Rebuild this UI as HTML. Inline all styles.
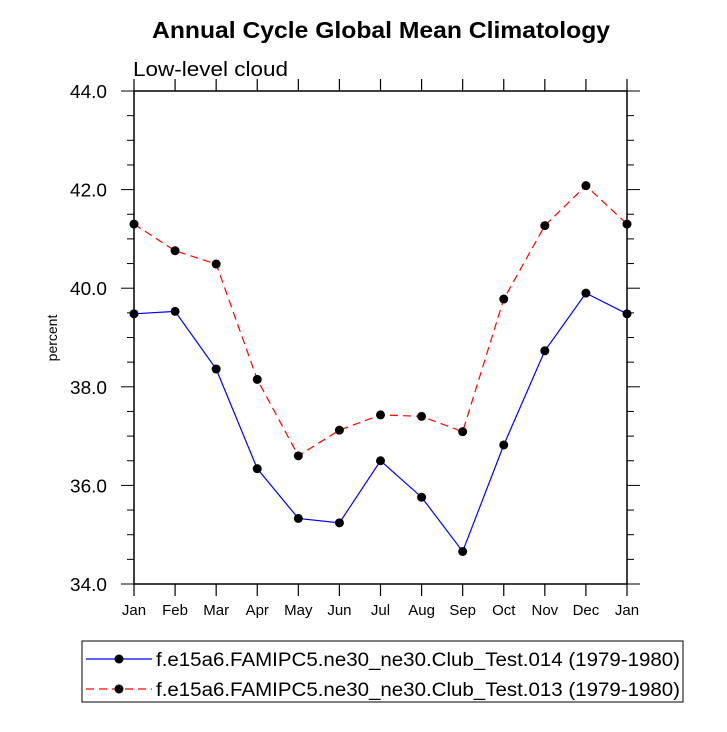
<!DOCTYPE html>
<html><head><meta charset="utf-8"><style>body{margin:0;background:#fff}svg{font-family:"Liberation Sans",sans-serif}</style></head>
<body>
<svg width="727" height="727" viewBox="0 0 727 727">
<text x="152" y="38" textLength="458" lengthAdjust="spacingAndGlyphs" font-size="23" font-weight="bold">Annual Cycle Global Mean Climatology</text>
<text x="133" y="76" textLength="155" lengthAdjust="spacingAndGlyphs" font-size="20">Low-level cloud</text>
<text transform="translate(57,338) rotate(-90)" text-anchor="middle" font-size="14">percent</text>
<g id="axes"></g>
<g id="series"></g>
<rect x="82" y="641" width="601" height="61" fill="none" stroke="#000" stroke-width="1"/>
<g>
<line x1="86" y1="659" x2="152" y2="659" stroke="#00f" stroke-width="1.2"/>
<circle cx="119" cy="659" r="4.5" fill="#000"/>
<text x="156" y="666" font-size="19" textLength="524" lengthAdjust="spacingAndGlyphs">f.e15a6.FAMIPC5.ne30_ne30.Club_Test.014 (1979-1980)</text>
</g>
<g>
<line x1="86" y1="689" x2="152" y2="689" stroke="#f00" stroke-width="1.2" stroke-dasharray="8,5"/>
<circle cx="119" cy="689" r="4.5" fill="#000"/>
<text x="156" y="696" font-size="19" textLength="524" lengthAdjust="spacingAndGlyphs">f.e15a6.FAMIPC5.ne30_ne30.Club_Test.013 (1979-1980)</text>
</g>
</svg>
<script>
const months=["Jan","Feb","Mar","Apr","May","Jun","Jul","Aug","Sep","Oct","Nov","Dec","Jan"];
const blue=[39.48,39.53,38.36,36.34,35.33,35.24,36.5,35.76,34.66,36.82,38.73,39.9,39.48];
const red=[41.3,40.76,40.49,38.15,36.6,37.12,37.43,37.4,37.09,39.78,41.27,42.08,41.3];
const yTicks=[34,36,38,40,42,44];
const yTickLabels=["34.0","36.0","38.0","40.0","42.0","44.0"];
const NS="http://www.w3.org/2000/svg";
const L=134,R=627,T=91,B=584,ymin=34,ymax=44;
const X=i=>L+(R-L)*i/(months.length-1);
const Y=v=>B-(B-T)*(v-ymin)/(ymax-ymin);
function mk(t,a,p){const e=document.createElementNS(NS,t);for(const k in a)e.setAttribute(k,a[k]);p.appendChild(e);return e;}
const ax=document.getElementById('axes'),se=document.getElementById('series');
const frame=mk('rect',{x:L,y:T,width:R-L,height:B-T,fill:'none',stroke:'#000','stroke-width':1.5},ax);


months.forEach((m,i)=>{
 const x=X(i);
 mk('line',{x1:x,y1:B,x2:x,y2:B+12,stroke:'#000','stroke-width':1.2},ax);
 mk('line',{x1:x,y1:T,x2:x,y2:T-12,stroke:'#000','stroke-width':1.2},ax);
 const t=mk('text',{x:x,y:B+31,'text-anchor':'middle','font-size':15},ax);t.textContent=m;
 
 
});
for(let v=ymin;v<=ymax+1e-9;v+=0.5){
 const y=Y(v),major=Math.abs(v-Math.round(v/2)*2)<1e-9,len=major?13:7;
 mk('line',{x1:L-len,y1:y,x2:L,y2:y,stroke:'#000','stroke-width':1},ax);
 mk('line',{x1:R,y1:y,x2:R+len,y2:y,stroke:'#000','stroke-width':1},ax);
}
yTicks.forEach((v,i)=>{
 const t=mk('text',{x:70,y:Y(v)+7,'font-size':18,textLength:37,lengthAdjust:'spacingAndGlyphs'},ax);t.textContent=yTickLabels[i];
 
 
});
function draw(d,col,dash,name){
 const p=mk('polyline',{points:d.map((v,i)=>X(i)+','+Y(v)).join(' '),fill:'none',stroke:col,'stroke-width':1.2,'stroke-dasharray':dash},se);
 
 
 d.forEach((v,i)=>{const c=mk('circle',{cx:X(i),cy:Y(v),r:4.5,fill:'#000'},se);
 
 });
}
draw(red,'#f00','8,5','series-013');
draw(blue,'#00f','none','series-014');
</script>
</body></html>
